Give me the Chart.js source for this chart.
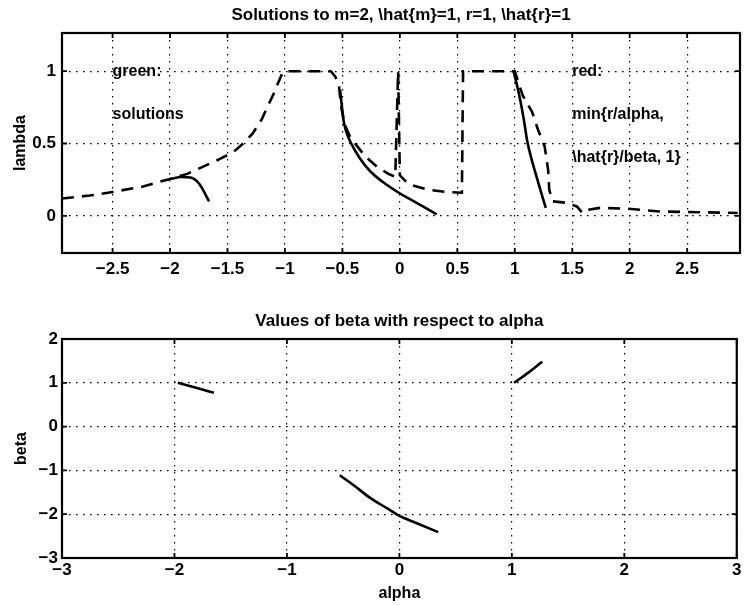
<!DOCTYPE html>
<html>
<head>
<meta charset="utf-8">
<script src="https://cdn.jsdelivr.net/npm/chart.js@4.4.1/dist/chart.umd.min.js"></script>
<style>
  html, body { margin: 0; padding: 0; background: #fff; }
  body { width: 744px; height: 605px; position: relative; overflow: hidden; }
  .box { position: absolute; left: 0; width: 744px; }
  #b1 { top: 0; height: 300px; }
  #b2 { top: 300px; height: 305px; }
</style>
</head>
<body>
<div class="box" id="b1"><canvas id="c1"></canvas></div>
<div class="box" id="b2"><canvas id="c2"></canvas></div>
<script>
// ---------- titles and labels ----------
const topTitle = "Solutions to m=2, \\hat{m}=1, r=1, \\hat{r}=1";
const bottomTitle = "Values of beta with respect to alpha";
const topYLabel = "lambda";
const bottomYLabel = "beta";
const bottomXLabel = "alpha";

// ---------- tick values ----------
const topXTicks = [-2.5, -2, -1.5, -1, -0.5, 0, 0.5, 1, 1.5, 2, 2.5];
const topYTicks = [0, 0.5, 1];
const bottomXTicks = [-3, -2, -1, 0, 1, 2, 3];
const bottomYTicks = [-3, -2, -1, 0, 1, 2];

// ---------- annotations (top panel) ----------
const noteTexts = ["green:", "solutions", "red:", "min{r/alpha,", "\\hat{r}/beta, 1}"];
const noteAlpha = [-2.5, -2.5, 1.5, 1.5, 1.5];
const noteLambda = [1.0, 0.70, 1.0, 0.70, 0.40];

// ---------- top panel: solutions (solid) ----------
const solA_alpha  = [-2.0, -1.9, -1.82, -1.76, -1.72, -1.69, -1.66];
const solA_lambda = [0.255, 0.268, 0.265, 0.235, 0.19, 0.145, 0.10];
const solB_alpha  = [-0.52, -0.505, -0.49, -0.47, -0.43, -0.35, -0.26, -0.15, -0.03, 0.10, 0.20, 0.32];
const solB_lambda = [0.87, 0.76, 0.66, 0.59, 0.51, 0.40, 0.31, 0.235, 0.17, 0.11, 0.065, 0.01];
const solC_alpha  = [0.99, 1.04, 1.08, 1.11, 1.15, 1.19, 1.23, 1.27];
const solC_lambda = [1.0, 0.83, 0.66, 0.51, 0.38, 0.27, 0.16, 0.055];

// ---------- top panel: min{r/alpha, \hat{r}/beta, 1} (dashed) ----------
const minAlpha  = [-2.94, -2.7, -2.5, -2.25, -2.0, -1.85, -1.74, -1.6, -1.45, -1.35, -1.28, -1.2, -1.16, -1.1, -1.07, -1.02, -1.0,
                   -0.6, -0.56, -0.53, -0.51, -0.48, -0.43, -0.37, -0.3, -0.2, -0.1, -0.04, -0.015, 0.0, 0.05, 0.11, 0.25, 0.4, 0.54,
                   0.55, 1.0, 1.07, 1.15, 1.2, 1.26, 1.29, 1.30, 1.33, 1.45, 1.54, 1.59, 1.62, 1.74, 1.97, 2.26, 2.6, 2.94];
const minLambda = [0.12, 0.14, 0.165, 0.2, 0.255, 0.29, 0.33, 0.38, 0.44, 0.51, 0.57, 0.67, 0.74, 0.84, 0.9, 0.99, 1.0,
                   1.0, 0.96, 0.9, 0.75, 0.63, 0.54, 0.48, 0.41, 0.34, 0.29, 0.27, 1.0, 0.28, 0.24, 0.21, 0.18, 0.165, 0.16,
                   1.0, 1.0, 0.83, 0.72, 0.6, 0.48, 0.32, 0.18, 0.10, 0.09, 0.065, 0.02, 0.04, 0.055, 0.05, 0.03, 0.025, 0.02];

// ---------- bottom panel: beta vs alpha ----------
const betaA_alpha = [-1.97, -1.8, -1.65];
const betaA_beta  = [1.0, 0.88, 0.77];
const betaB_alpha = [-0.53, -0.4, -0.27, -0.1, 0.0, 0.15, 0.345];
const betaB_beta  = [-1.11, -1.35, -1.61, -1.88, -2.04, -2.2, -2.41];
const betaC_alpha = [1.02, 1.07, 1.14, 1.2, 1.27];
const betaC_beta  = [1.0, 1.09, 1.22, 1.34, 1.48];

// ---------- helpers ----------
const FONT = "'Liberation Sans', Arial, Helvetica, sans-serif";
function pts(xs, ys) { return xs.map((x, i) => ({ x: x, y: ys[i] })); }
function fmt(v) { return String(v).replace('-', '\u2212'); }
function solid(xs, ys) {
  return { data: pts(xs, ys), showLine: true, borderColor: '#000', borderWidth: 2.6,
           pointRadius: 0, fill: false, cubicInterpolationMode: 'monotone' };
}
function dashed(xs, ys) {
  return { data: pts(xs, ys), showLine: true, borderColor: '#000', borderWidth: 2.6,
           borderDash: [12, 8], pointRadius: 0, fill: false, tension: 0 };
}

// frame + inward tick marks + title + notes
const matlabFrame = {
  id: 'matlabFrame',
  afterDatasetsDraw(chart, args, opts) {
    const { ctx, chartArea: a, scales } = chart;
    ctx.save();
    ctx.strokeStyle = '#000';
    ctx.lineWidth = 2.2;
    ctx.setLineDash([]);
    ctx.strokeRect(a.left, a.top, a.right - a.left, a.bottom - a.top);
    ctx.lineWidth = 1.8;
    const L = 5;
    scales.x.ticks.forEach(t => {
      const px = scales.x.getPixelForValue(t.value);
      ctx.beginPath();
      ctx.moveTo(px, a.bottom); ctx.lineTo(px, a.bottom - L);
      ctx.moveTo(px, a.top); ctx.lineTo(px, a.top + L);
      ctx.stroke();
    });
    scales.y.ticks.forEach(t => {
      const py = scales.y.getPixelForValue(t.value);
      ctx.beginPath();
      ctx.moveTo(a.left, py); ctx.lineTo(a.left + L, py);
      ctx.moveTo(a.right, py); ctx.lineTo(a.right - L, py);
      ctx.stroke();
    });
    // title centred over the plot area
    ctx.fillStyle = '#000';
    ctx.font = 'bold 17px ' + FONT;
    ctx.textAlign = 'center';
    ctx.textBaseline = 'middle';
    ctx.fillText(opts.title, (a.left + a.right) / 2, opts.titleY);
    // notes
    if (opts.notes) {
      ctx.font = 'bold 16px ' + FONT;
      ctx.textAlign = 'left';
      opts.notes.texts.forEach((s, i) => {
        ctx.fillText(s, scales.x.getPixelForValue(opts.notes.xs[i]), scales.y.getPixelForValue(opts.notes.ys[i]));
      });
    }
    ctx.restore();
  }
};

function axis(min, max, tickVals, extra) {
  const o = {
    type: 'linear', min: min, max: max,
    afterBuildTicks: s => { s.ticks = tickVals.map(v => ({ value: v })); },
    grid: { color: '#000', lineWidth: 1.2, drawTicks: false },
    border: { display: false, dash: [1.6, 5.4] },
    ticks: { color: '#000', font: { family: FONT, size: 17, weight: 'bold' },
             callback: v => fmt(v), autoSkip: false, maxRotation: 0, includeBounds: false }
  };
  return Object.assign(o, extra || {});
}

Chart.defaults.font.family = FONT;

// ---------- top chart ----------
new Chart(document.getElementById('c1'), {
  type: 'scatter',
  data: { datasets: [
    dashed(minAlpha, minLambda),
    solid(solA_alpha, solA_lambda),
    solid(solB_alpha, solB_lambda),
    solid(solC_alpha, solC_lambda)
  ] },
  options: {
    responsive: true, maintainAspectRatio: false, animation: false,
    layout: { padding: { top: 33, right: 4, left: 0, bottom: 0 } },
    plugins: {
      legend: { display: false }, tooltip: { enabled: false },
      matlabFrame: { title: topTitle, titleY: 15,
                     notes: { texts: noteTexts, xs: noteAlpha, ys: noteLambda } }
    },
    scales: {
      x: (() => { const a = axis(-2.94, 2.96, topXTicks); a.ticks.padding = 6.5;
                  a.afterFit = s => { s.height = 47; }; return a; })(),
      y: (() => { const a = axis(-0.257, 1.264, topYTicks); a.ticks.padding = 6;
                  a.title = { display: true, text: topYLabel, color: '#000',
                              font: { family: FONT, size: 16, weight: 'bold' }, padding: { top: 11, bottom: 0 } };
                  a.afterFit = s => { s.width = 62; }; return a; })()
    }
  },
  plugins: [matlabFrame]
});

// ---------- bottom chart ----------
new Chart(document.getElementById('c2'), {
  type: 'scatter',
  data: { datasets: [
    solid(betaA_alpha, betaA_beta),
    solid(betaB_alpha, betaB_beta),
    solid(betaC_alpha, betaC_beta)
  ] },
  options: {
    responsive: true, maintainAspectRatio: false, animation: false,
    layout: { padding: { top: 39, right: 4, left: 0, bottom: 0 } },
    plugins: {
      legend: { display: false }, tooltip: { enabled: false },
      matlabFrame: { title: bottomTitle, titleY: 21 }
    },
    scales: {
      x: (() => { const a = axis(-3, 3, bottomXTicks); a.ticks.padding = 2.5;
                  a.title = { display: true, text: bottomXLabel, color: '#000',
                              font: { family: FONT, size: 16, weight: 'bold' }, padding: { top: 0, bottom: 1.5 } };
                  a.afterFit = s => { s.height = 47; }; return a; })(),
      y: (() => { const a = axis(-3, 2, bottomYTicks); a.ticks.padding = 4;
                  a.title = { display: true, text: bottomYLabel, color: '#000',
                              font: { family: FONT, size: 16, weight: 'bold' }, padding: { top: 12, bottom: 0 } };
                  a.afterFit = s => { s.width = 62; }; return a; })()
    }
  },
  plugins: [matlabFrame]
});
</script>
</body>
</html>
